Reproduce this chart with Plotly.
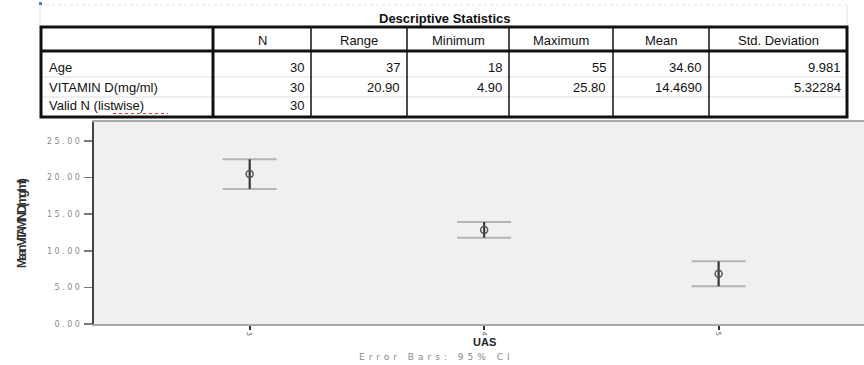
import plotly.graph_objects as go

# ---- data ----
table_title = "Descriptive Statistics"
col_headers = ["", "N", "Range", "Minimum", "Maximum", "Mean", "Std. Deviation"]
row_labels = ["Age", "VITAMIN D(mg/ml)", "Valid N (listwise)"]
row_age = ["30", "37", "18", "55", "34.60", "9.981"]
row_vitd = ["30", "20.90", "4.90", "25.80", "14.4690", "5.32284"]
row_valid = ["30", "", "", "", "", ""]

uas_groups = [3, 4, 5]
vitd_mean = [20.50, 12.85, 6.87]
ci_upper = [22.50, 13.93, 8.56]
ci_lower = [18.45, 11.80, 5.15]
y_ticks = [0, 5, 10, 15, 20, 25]

W, H = 864, 365
def px(x):
    return x / W
def py(y):
    return 1 - y / H

fig = go.Figure()

err_plus = [u - m for u, m in zip(ci_upper, vitd_mean)]
err_minus = [m - l for m, l in zip(vitd_mean, ci_lower)]

# caps (light gray)
fig.add_trace(go.Scatter(
    x=uas_groups, y=vitd_mean, mode="markers",
    marker=dict(size=1, color="rgba(0,0,0,0)"),
    error_y=dict(type="data", symmetric=False, array=err_plus, arrayminus=err_minus,
                 color="#b4b4b4", thickness=2, width=27),
    hoverinfo="skip", showlegend=False))
# stems (dark)
fig.add_trace(go.Scatter(
    x=uas_groups, y=vitd_mean, mode="markers",
    marker=dict(size=1, color="rgba(0,0,0,0)"),
    error_y=dict(type="data", symmetric=False, array=err_plus, arrayminus=err_minus,
                 color="#333333", thickness=2, width=0),
    hoverinfo="skip", showlegend=False))
# mean markers
fig.add_trace(go.Scatter(
    x=uas_groups, y=vitd_mean, mode="markers",
    marker=dict(symbol="circle-open", size=7, color="#555555", line=dict(width=1.5)),
    showlegend=False))

shapes = []
annotations = []

# ---- table ----
col_edges = [40, 213, 311, 407, 509, 613, 709, 848]
row_edges = [27, 51, 77, 97, 117]
tbl_top, tbl_bot = row_edges[0], row_edges[-1]

# faint outer frame
shapes.append(dict(type="line", xref="paper", yref="paper", x0=px(40), x1=px(848), y0=py(5), y1=py(5),
                   line=dict(color="#e4e4e4", width=1, dash="dot")))
shapes.append(dict(type="line", xref="paper", yref="paper", x0=px(40), x1=px(40), y0=py(5), y1=py(27),
                   line=dict(color="#e4e4e4", width=1)))
shapes.append(dict(type="line", xref="paper", yref="paper", x0=px(847), x1=px(847), y0=py(5), y1=py(27),
                   line=dict(color="#e4e4e4", width=1)))
shapes.append(dict(type="rect", xref="paper", yref="paper", x0=px(39), x1=px(42), y0=py(2), y1=py(5),
                   fillcolor="#4a7fd0", line=dict(width=0)))

# inner light row lines
for yy in row_edges[2:-1]:
    shapes.append(dict(type="line", xref="paper", yref="paper", x0=px(40), x1=px(848), y0=py(yy), y1=py(yy),
                       line=dict(color="#dedede", width=1)))
# vertical thin lines
for xx in col_edges[2:-1]:
    shapes.append(dict(type="line", xref="paper", yref="paper", x0=px(xx), x1=px(xx), y0=py(tbl_top), y1=py(tbl_bot),
                       line=dict(color="#111111", width=1.5)))
# thick first-column separator
shapes.append(dict(type="line", xref="paper", yref="paper", x0=px(213), x1=px(213), y0=py(tbl_top), y1=py(tbl_bot),
                   line=dict(color="#111111", width=3)))
# header bottom
shapes.append(dict(type="line", xref="paper", yref="paper", x0=px(40), x1=px(848), y0=py(51), y1=py(51),
                   line=dict(color="#111111", width=3)))
# outer border
shapes.append(dict(type="rect", xref="paper", yref="paper", x0=px(41), x1=px(847), y0=py(tbl_top), y1=py(tbl_bot),
                   line=dict(color="#111111", width=3)))

tfont = dict(family="Liberation Sans, Arial, sans-serif", size=13, color="#111111")
annotations.append(dict(text="<b>" + table_title + "</b>", x=px(445), y=py(18), xref="paper", yref="paper",
                        showarrow=False, xanchor="center", yanchor="middle",
                        font=dict(family="Liberation Sans, Arial, sans-serif", size=13, color="#111111")))
for i, h in enumerate(col_headers):
    if h:
        annotations.append(dict(text=h, x=px((col_edges[i] + col_edges[i + 1]) / 2), y=py(40),
                                xref="paper", yref="paper", showarrow=False,
                                xanchor="center", yanchor="middle", font=tfont))
rows = [row_age, row_vitd, row_valid]
row_centers = [67, 87, 106]
for r, (lab, vals) in enumerate(zip(row_labels, rows)):
    annotations.append(dict(text=lab, x=px(47), y=py(row_centers[r]), xref="paper", yref="paper",
                            showarrow=False, xanchor="left", yanchor="middle", font=tfont))
    for c, v in enumerate(vals):
        if v:
            annotations.append(dict(text=v, x=px(col_edges[c + 2] - 5), y=py(row_centers[r]),
                                    xref="paper", yref="paper", showarrow=False,
                                    xanchor="right", yanchor="middle", font=tfont))
# red spelling squiggle under "listwise"
shapes.append(dict(type="line", xref="paper", yref="paper", x0=px(113), x1=px(168), y0=py(113.5), y1=py(113.5),
                   line=dict(color="#e03030", width=1.2, dash="dot")))

# ---- chart labels ----
annotations.append(dict(text='<b><span style="letter-spacing:-2.4px">Mean VITAMIN D(mg/ml)</span></b>',
                        x=px(22), y=py(223), xref="paper", yref="paper",
                        showarrow=False, textangle=-90, xanchor="center", yanchor="middle",
                        font=dict(family="Liberation Sans, Arial, sans-serif", size=12, color="#333333")))
annotations.append(dict(text="<b>UAS</b>", x=px(484), y=py(342), xref="paper", yref="paper",
                        showarrow=False, xanchor="center", yanchor="middle",
                        font=dict(family="Liberation Sans, Arial, sans-serif", size=11, color="#222222")))
annotations.append(dict(text='<span style="letter-spacing:4px">Error Bars: 95% CI</span>',
                        x=px(436), y=py(357), xref="paper", yref="paper",
                        showarrow=False, xanchor="center", yanchor="middle",
                        font=dict(family="DejaVu Sans, sans-serif", size=9, color="#888888")))

ytick_text = ['<span style="letter-spacing:2.5px">%.2f</span>' % v for v in y_ticks]

fig.update_layout(
    width=W, height=H,
    margin=dict(l=0, r=0, t=0, b=0, autoexpand=False),
    paper_bgcolor="white",
    plot_bgcolor="#f0f0f0",
    shapes=shapes,
    annotations=annotations,
    xaxis=dict(domain=[px(94), 1.0], range=[2.336, 5.62], tickvals=uas_groups,
               ticktext=[str(g) for g in uas_groups], tickangle=90,
               showgrid=False, zeroline=False, showline=True, linecolor="#a8a8a8", linewidth=2,
               mirror=True, ticks="outside", ticklen=4, tickcolor="#333333", tickwidth=2,
               tickfont=dict(family="DejaVu Sans, sans-serif", size=7, color="#666666")),
    yaxis=dict(domain=[py(324), py(122)], range=[0, 27.6], tickvals=y_ticks,
               ticktext=ytick_text, showgrid=False, zeroline=False, showline=True,
               linecolor="#444444", linewidth=2, ticks="outside", ticklen=8, tickcolor="#777777",
               tickwidth=1.5,
               tickfont=dict(family="DejaVu Sans, sans-serif", size=8, color="#8a8a8a")),
)

fig.write_html("out.html", config={"displayModeBar": False, "staticPlot": True})

# remove default page margin so the figure sits at the window origin
with open("out.html", "r", encoding="utf-8") as f:
    html = f.read()
html = html.replace("<head>",
                    "<head><style>html,body{margin:0;padding:0;overflow:hidden;height:365px;line-height:0;}</style>", 1)
with open("out.html", "w", encoding="utf-8") as f:
    f.write(html)
